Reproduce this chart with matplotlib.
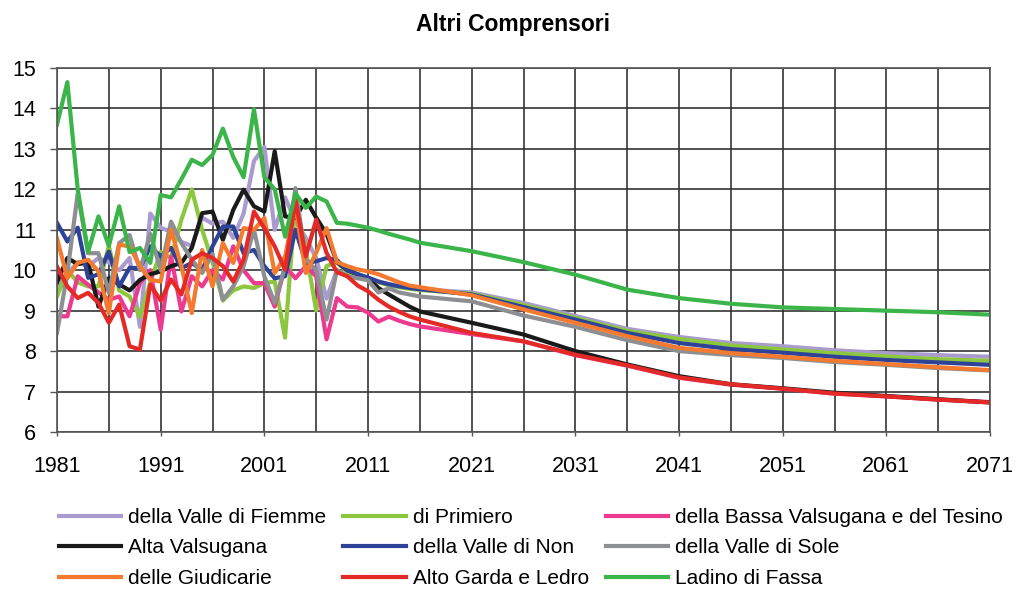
import matplotlib
matplotlib.use("Agg")
import matplotlib.pyplot as plt
from matplotlib.ticker import FixedLocator

plt.rcParams['font.family'] = ['Liberation Sans', 'DejaVu Sans']

years = list(range(1981, 2017)) + list(range(2021, 2072, 5))
major_years = list(range(1981, 2072, 10))
minor_years = list(range(1986, 2072, 10))

fiemme = [9.6, 9.9, 10.2, 10.1, 10.3, 10.2, 10.0, 10.3, 8.6, 11.4,
          11.05, 10.95, 10.7, 10.6, 11.3, 11.15, 11.2, 10.8, 11.4, 12.7,
          13.05, 11.0, 11.8, 11.2, 10.8, 10.3, 9.3, 10.0, 9.85, 9.85,
          9.78, 9.72, 9.66, 9.61, 9.57, 9.53,
          9.45, 9.19, 8.87, 8.55, 8.35, 8.2, 8.12, 8.02, 7.95, 7.9, 7.86]
primiero = [9.35, 10.0, 9.7, 9.6, 9.6, 10.6, 9.5, 9.35, 8.85, 9.7,
            10.45, 10.3, 11.25, 12.0, 11.0, 10.2, 9.25, 9.5, 9.6, 9.56,
            9.68, 9.72, 8.33, 11.7, 10.5, 9.0, 10.1, 10.2, 9.95, 9.85,
            9.78, 9.7, 9.63, 9.58, 9.54, 9.51,
            9.42, 9.14, 8.82, 8.5, 8.3, 8.14, 8.04, 7.95, 7.87, 7.8, 7.76]
bassa = [8.86, 8.86, 9.85, 9.64, 9.45, 9.27, 9.35, 8.86, 9.68, 10.0,
         8.53, 10.34, 8.98, 9.85, 9.6, 10.0, 9.77, 10.59, 10.0, 9.68,
         9.68, 9.1, 10.1, 9.8, 10.1, 9.85, 8.29, 9.31, 9.1, 9.08,
         8.95, 8.73, 8.85, 8.75, 8.67, 8.61,
         8.42, 8.24, 7.9, 7.64, 7.34, 7.17, 7.07, 6.95, 6.88, 6.8, 6.74]
alta = [9.7, 10.3, 10.15, 10.2, 9.1, 9.8, 9.65, 9.5, 9.76, 9.9,
        9.97, 10.1, 10.18, 10.55, 11.41, 11.45, 10.75, 11.49, 11.99, 11.58,
        11.45, 12.94, 11.33, 11.29, 11.74, 11.3, 10.9, 10.2, 10.0, 9.9,
        9.8, 9.56, 9.4, 9.25, 9.1, 8.98,
        8.7, 8.41, 8.0, 7.67, 7.38, 7.18, 7.08, 6.97, 6.89, 6.81, 6.73]
non = [11.17, 10.71, 11.05, 9.81, 9.9, 10.46, 9.6, 10.06, 10.05, 10.59,
       10.34, 10.55, 10.05, 10.18, 10.0, 10.59, 11.08, 11.08, 10.42, 10.5,
       10.1, 9.8, 9.85, 11.0, 10.18, 10.22, 10.3, 10.25, 10.0, 9.9,
       9.82, 9.72, 9.65, 9.6, 9.56, 9.53,
       9.4, 9.09, 8.78, 8.45, 8.2, 8.05, 7.96, 7.86, 7.78, 7.72, 7.66]
sole = [8.45, 9.93, 11.9, 10.42, 10.42, 9.44, 10.67, 10.87, 10.0, 10.9,
        10.0, 11.2, 10.67, 10.26, 9.93, 10.4, 9.27, 9.6, 10.1, 11.0,
        9.85, 9.19, 10.1, 12.03, 10.26, 10.0, 8.78, 10.0, 9.85, 9.8,
        9.75, 9.45, 9.55, 9.45, 9.4, 9.35,
        9.23, 8.88, 8.6, 8.27, 8.0, 7.9, 7.83, 7.73, 7.66, 7.58, 7.52]
giudicarie = [10.79, 9.8, 10.18, 10.26, 9.97, 8.94, 10.63, 10.59, 10.1, 9.76,
              9.72, 11.0, 10.1, 8.94, 10.5, 9.6, 10.67, 10.18, 11.04, 11.0,
              11.29, 9.93, 10.34, 11.58, 9.93, 10.43, 11.04, 10.2, 10.1, 10.02,
              9.97, 9.9, 9.8, 9.7, 9.62, 9.58,
              9.38, 9.03, 8.7, 8.37, 8.08, 7.95, 7.86, 7.76, 7.68, 7.6, 7.53]
garda = [10.09, 9.6, 9.31, 9.44, 9.19, 8.7, 9.15, 8.12, 8.04, 9.64,
         9.25, 9.77, 9.4, 10.26, 10.42, 10.3, 10.1, 9.72, 10.26, 11.45,
         11.04, 10.59, 10.01, 11.74, 10.34, 11.25, 10.43, 9.95, 9.85, 9.62,
         9.48, 9.27, 9.1, 8.97, 8.86, 8.78,
         8.45, 8.24, 7.91, 7.65, 7.35, 7.18, 7.07, 6.95, 6.88, 6.8, 6.73]
ladino = [13.6, 14.65, 12.0, 10.45, 11.33, 10.6, 11.58, 10.45, 10.55, 10.18,
          11.86, 11.8, 12.25, 12.73, 12.6, 12.85, 13.5, 12.8, 12.3, 13.98,
          12.3, 12.0, 10.83, 11.9, 11.54, 11.82, 11.7, 11.17, 11.15, 11.1,
          11.05, 10.98, 10.9, 10.83, 10.76, 10.68,
          10.47, 10.2, 9.89, 9.52, 9.31, 9.17, 9.08, 9.04, 9.0, 8.96, 8.9]

names = ["della Valle di Fiemme", "di Primiero", "della Bassa Valsugana e del Tesino",
         "Alta Valsugana", "della Valle di Non", "della Valle di Sole",
         "delle Giudicarie", "Alto Garda e Ledro", "Ladino di Fassa"]
series = [fiemme, primiero, bassa, alta, non, sole, giudicarie, garda, ladino]
colors = ["#A99BCE", "#8DC63F", "#EC3A8E", "#1A1A1A", "#2E4397",
          "#8E8F92", "#F47A30", "#E42A27", "#3BB54A"]

fig = plt.figure(figsize=(10.27, 5.89), dpi=100)
ax = fig.add_axes([0.0555, 0.2666, 0.9085, 0.618])

handles = []
for name, vals, c in zip(names, series, colors):
    h, = ax.plot(years, vals, color=c, lw=3.0, label=name)
    handles.append(h)

ax.set_xlim(1981, 2071)
ax.set_ylim(6, 15)
ax.xaxis.set_major_locator(FixedLocator(major_years))
ax.xaxis.set_minor_locator(FixedLocator(minor_years))
ax.set_yticks(list(range(6, 16)))
ax.grid(True, which='both', color='#333333', lw=1.2)
ax.set_axisbelow(True)
for s in ax.spines.values():
    s.set_color('#555555')
    s.set_linewidth(1.2)
ax.tick_params(axis='y', direction='out', length=5, width=1, color='#555555',
               pad=10, labelsize=15.5)
ax.tick_params(axis='x', which='major', direction='out', length=3, width=1,
               color='#555555', pad=14, labelsize=15.5)
ax.tick_params(axis='x', which='minor', length=0)

fig.suptitle("Altri Comprensori", fontsize=16.5, fontweight='bold', y=0.978)

order = [0, 3, 6, 1, 4, 7, 2, 5, 8]
leg = fig.legend([handles[i] for i in order], [names[i] for i in order],
                 ncol=3, loc='upper left', bbox_to_anchor=(0.057, 0.1375),
                 frameon=False, fontsize=15, handlelength=3.0,
                 handletextpad=0.35, columnspacing=0.8, labelspacing=0.55,
                 borderpad=0, borderaxespad=0)

fig.savefig("out.png", dpi=100)
